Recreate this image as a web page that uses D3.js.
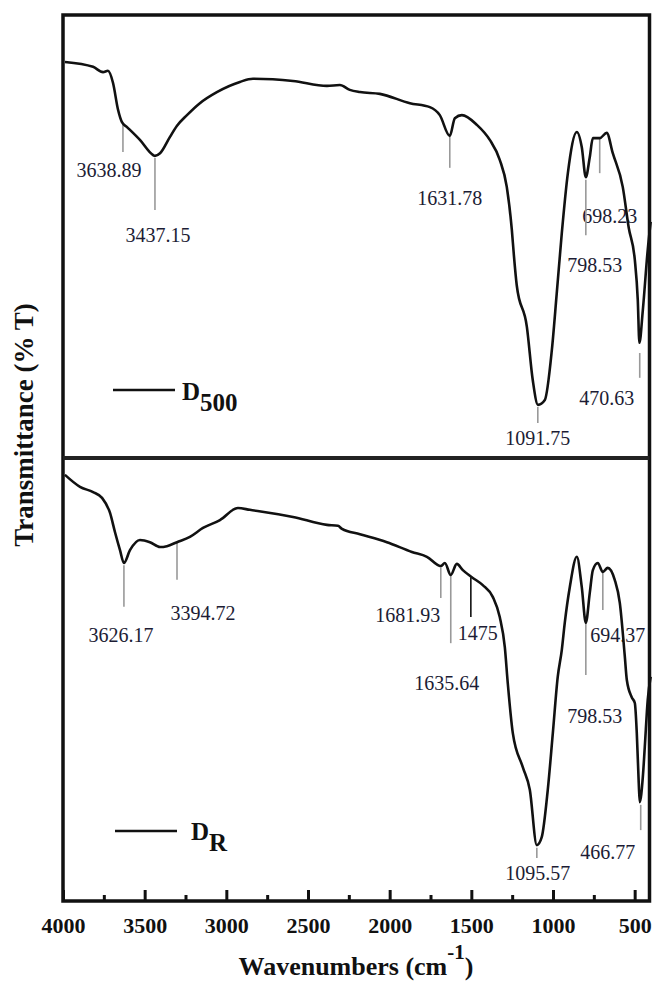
<!DOCTYPE html>
<html>
<head>
<meta charset="utf-8">
<script src="https://cdn.jsdelivr.net/npm/d3@7"></script>
<style>
  html, body { margin: 0; padding: 0; background: #fff; }
  svg { display: block; }
</style>
</head>
<body>
<div id="chart"></div>
<script>
// ---------- DATA (wavenumber cm^-1, transmittance % in each panel) ----------
const wnD500 = [3988, 3816, 3755, 3725, 3694, 3663, 3639, 3608, 3529, 3449, 3437, 3406, 3345, 3302, 3241, 3162, 3058, 2917, 2837, 2592, 2384, 2305, 2244, 2182, 2060, 1876, 1754, 1693, 1632, 1601, 1558, 1466, 1387, 1326, 1283, 1252, 1240, 1222, 1160, 1124, 1092, 1050, 1007, 977, 946, 909, 854, 824, 799, 775, 756, 714, 671, 634, 573, 536, 499, 481, 471, 450, 420, 402];
const tD500  = [89.4, 88.3, 87.1, 87.4, 84.7, 78.6, 75.8, 74.7, 71.8, 68.4, 68.2, 68.8, 72.5, 75.0, 77.4, 80.1, 82.6, 84.9, 85.6, 85.1, 84.0, 84.2, 83.1, 82.6, 82.2, 80.1, 79.2, 77.4, 72.7, 76.7, 77.4, 75.2, 71.8, 67.3, 61.2, 51.5, 46.0, 39.0, 29.6, 17.6, 12.0, 13.1, 24.4, 37.2, 50.8, 64.3, 73.6, 70.2, 63.4, 67.9, 72.2, 72.2, 73.4, 68.8, 61.2, 51.9, 44.7, 35.7, 26.0, 33.4, 47.0, 53.3];

const wnDR = [3988, 3896, 3816, 3761, 3712, 3682, 3651, 3627, 3590, 3529, 3468, 3406, 3364, 3302, 3223, 3143, 3039, 2929, 2856, 2592, 2384, 2317, 2292, 2182, 2017, 1864, 1772, 1687, 1662, 1626, 1589, 1552, 1497, 1430, 1368, 1326, 1295, 1277, 1246, 1185, 1142, 1099, 1069, 1032, 1001, 971, 946, 928, 897, 854, 824, 799, 775, 756, 726, 695, 665, 622, 591, 561, 548, 518, 499, 487, 475, 469, 450, 438, 420, 402];
const tDR  = [96.2, 93.5, 92.3, 91.0, 87.6, 83.3, 79.2, 76.3, 79.2, 81.5, 81.0, 79.9, 80.1, 81.0, 82.2, 84.2, 86.0, 88.7, 88.3, 86.7, 84.9, 84.7, 84.0, 82.8, 81.0, 78.8, 77.7, 75.6, 76.3, 73.6, 76.1, 74.7, 73.1, 71.3, 68.6, 64.1, 57.3, 49.2, 37.9, 30.2, 25.1, 12.6, 14.4, 25.1, 37.9, 50.6, 56.7, 62.8, 70.9, 77.7, 70.9, 62.8, 69.5, 74.7, 76.3, 74.3, 75.2, 72.5, 67.3, 55.5, 49.9, 46.0, 44.7, 37.9, 26.6, 22.3, 28.0, 34.8, 45.4, 50.6];

// peak annotations: label text, marker wavenumber, marker top/bottom T, label wavenumber, label baseline T
const peaksTopLabels = ["3638.89", "3437.15", "1631.78", "698.23", "798.53", "470.63", "1091.75"];
const peaksTopMarkWn = [3633, 3437, 1632, 714, 799, 469, 1093];
const peaksTopMarkT1 = [75.2, 67.7, 72.5, 72.2, 62.8, 23.7, 11.5];
const peaksTopMarkT2 = [69.1, 56.0, 65.5, 64.3, 50.3, 18.1, 7.9];
const peaksTopLabWn  = [3718, 3419, 1632, 652, 744, 671, 1093];
const peaksTopLabT   = [63.4, 48.8, 57.1, 53.0, 42.0, 12.0, 2.9];

const peaksBotLabels = ["3626.17", "3394.72", "1681.93", "1635.64", "1475", "798.53", "694.37", "1095.57", "466.77"];
const peaksBotMarkWn = [3627, 3302, 1687, 1626, 1503, 799, 695, 1099, 463];
const peaksBotMarkT1 = [75.8, 80.8, 75.2, 73.6, 73.1, 62.8, 74.3, 12.0, 21.7];
const peaksBotMarkT2 = [66.4, 72.5, 68.4, 58.2, 64.1, 51.0, 65.7, 9.7, 16.0];
const peaksBotLabWn  = [3645, 3143, 1889, 1650, 1460, 744, 603, 1093, 665];
const peaksBotLabT   = [58.5, 63.4, 63.0, 47.6, 58.9, 40.2, 58.5, 4.7, 9.5];
const peaksBotMarkDark = [false, false, false, false, true, false, false, false, false];

const majorTicks = [4000, 3500, 3000, 2500, 2000, 1500, 1000, 500];
const minorTicks = [3750, 3250, 2750, 2250, 1750, 1250, 750];

// ---------- LAYOUT ----------
const W = 654, H = 983;
const pLeft = 63, pRight = 651, pTop = 15, pMid = 458, pBottom = 901;
const serif = "'Liberation Serif', 'Times New Roman', serif";

const svg = d3.select("#chart").append("svg").attr("width", W).attr("height", H);

const x = d3.scaleLinear().domain([4000, 400]).range([pLeft, pRight]);
const yTop = d3.scaleLinear().domain([0, 100]).range([pMid, pTop]);
const yBot = d3.scaleLinear().domain([0, 100]).range([pBottom, pMid]);

function drawSpectrum(wn, t, y) {
  const pts = wn.map((w, i) => [w, t[i]]);
  const line = d3.line().x(d => x(d[0])).y(d => y(d[1])).curve(d3.curveMonotoneX);
  svg.append("path").datum(pts).attr("d", line)
    .attr("fill", "none").attr("stroke", "#111").attr("stroke-width", 2.6)
    .attr("stroke-linejoin", "round");
}

function drawPeaks(labels, mWn, mT1, mT2, lWn, lT, y, dark) {
  labels.forEach((lab, i) => {
    svg.append("line")
      .attr("x1", x(mWn[i])).attr("x2", x(mWn[i]))
      .attr("y1", y(mT1[i])).attr("y2", y(mT2[i]))
      .attr("stroke", dark && dark[i] ? "#111" : "#999").attr("stroke-width", 1.6);
    svg.append("text").attr("x", x(lWn[i])).attr("y", y(lT[i]))
      .attr("text-anchor", "middle").attr("font-family", serif).attr("font-size", 20)
      .attr("fill", "#1c1c34").text(lab);
  });
}

drawPeaks(peaksTopLabels, peaksTopMarkWn, peaksTopMarkT1, peaksTopMarkT2, peaksTopLabWn, peaksTopLabT, yTop, null);
drawPeaks(peaksBotLabels, peaksBotMarkWn, peaksBotMarkT1, peaksBotMarkT2, peaksBotLabWn, peaksBotLabT, yBot, peaksBotMarkDark);

drawSpectrum(wnD500, tD500, yTop);
drawSpectrum(wnDR, tDR, yBot);

// frame
svg.append("rect").attr("x", pLeft).attr("y", pTop).attr("width", 649.5 - pLeft).attr("height", pBottom - pTop)
  .attr("fill", "none").attr("stroke", "#111").attr("stroke-width", 3.5);
svg.append("line").attr("x1", pLeft).attr("x2", 649.5).attr("y1", pMid).attr("y2", pMid)
  .attr("stroke", "#222").attr("stroke-width", 4);

// axes
const axMajor = d3.axisBottom(x).tickValues(majorTicks).tickFormat(d3.format("d"))
  .tickSizeInner(-11).tickSizeOuter(0).tickPadding(16);
const gMaj = svg.append("g").attr("transform", `translate(0,${pBottom})`).call(axMajor);
gMaj.select(".domain").remove();
gMaj.selectAll(".tick line").attr("stroke", "#111").attr("stroke-width", 3);
gMaj.selectAll(".tick text").attr("font-family", serif).attr("font-size", 22)
  .attr("font-weight", "bold").attr("fill", "#111");

const axMinor = d3.axisBottom(x).tickValues(minorTicks).tickFormat("")
  .tickSizeInner(-6).tickSizeOuter(0);
const gMin = svg.append("g").attr("transform", `translate(0,${pBottom})`).call(axMinor);
gMin.select(".domain").remove();
gMin.selectAll(".tick line").attr("stroke", "#111").attr("stroke-width", 3);

// axis titles
const xt = svg.append("text").attr("x", 356).attr("y", 975).attr("text-anchor", "middle")
  .attr("font-family", serif).attr("font-weight", "bold").attr("font-size", 26).attr("fill", "#111");
xt.append("tspan").text("Wavenumbers (cm");
xt.append("tspan").attr("dy", -16).attr("font-size", 21).text("-1");
xt.append("tspan").attr("dy", 16).text(")");

svg.append("text").attr("transform", "translate(33,425) rotate(-90)").attr("text-anchor", "middle")
  .attr("font-family", serif).attr("font-weight", "bold").attr("font-size", 27).attr("fill", "#111")
  .text("Transmittance (% T)");

// legends
function legend(x1, x2, ly, tx, tb, sub) {
  svg.append("line").attr("x1", x1).attr("x2", x2).attr("y1", ly).attr("y2", ly)
    .attr("stroke", "#111").attr("stroke-width", 2.6);
  const t = svg.append("text").attr("x", tx).attr("y", tb)
    .attr("font-family", serif).attr("font-weight", "bold").attr("font-size", 25).attr("fill", "#111");
  t.append("tspan").text("D");
  t.append("tspan").attr("dy", 11).text(sub);
}
legend(113, 175, 390, 182, 400, "500");
legend(115, 177, 831, 191, 840, "R");
</script>
</body>
</html>
